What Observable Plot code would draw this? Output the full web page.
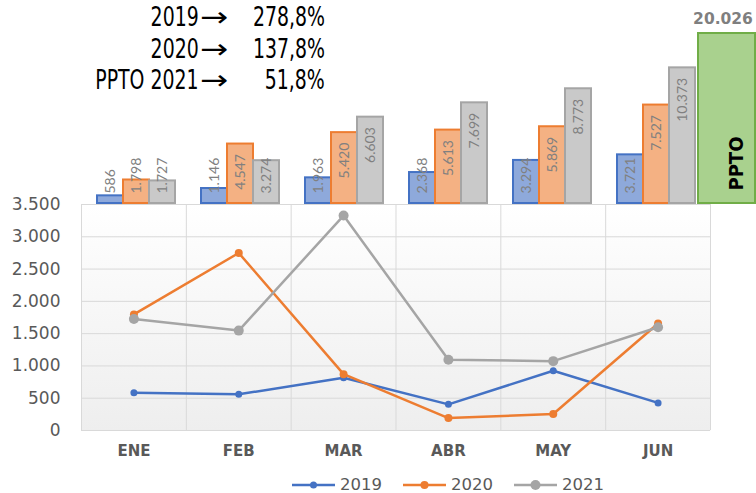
<!DOCTYPE html>
<html>
<head>
<meta charset="utf-8">
<script src="https://cdn.jsdelivr.net/npm/d3@7"></script>
<script src="https://cdn.jsdelivr.net/npm/@observablehq/plot@0.6"></script>
<style>
  body { margin: 0; background: #fff; }
  #wrap { position: relative; width: 756px; height: 493px; overflow: hidden; font-family: "DejaVu Sans", sans-serif; }
  #wrap > svg { position: absolute; top: 0; }
  .note { position: absolute; left: 0; width: 340px; height: 31.5px; line-height: 31.5px; font-size: 27px; color: #000; white-space: nowrap; }
  .note span { position: absolute; top: 0; display: inline-block; line-height: 31.5px; transform: scaleX(0.7); transform-origin: 100% 50%; }
  .note .lab { right: 141px; }
  .note .arr { right: 111px; transform: scaleX(1.25); }
  .note .val { right: 15px; }
  #legend { position: absolute; left: 292px; top: 474px; height: 22px; display: flex; align-items: center; font-size: 16.5px; color: #595959; }
  #legend .item { display: flex; align-items: center; margin-right: 21px; }
  #legend .item span { margin-left: 5px; line-height: 22px; }
</style>
</head>
<body>
<div id="wrap"></div>
<script>
// ---- data ----
const months = ["ENE", "FEB", "MAR", "ABR", "MAY", "JUN"];
const series = ["2019", "2020", "2021"];
// monthly values (line chart)
const monthly2019 = [586, 560, 817, 405, 926, 427];
const monthly2020 = [1798, 2749, 873, 193, 256, 1658];
const monthly2021 = [1727, 1547, 3329, 1096, 1074, 1600];
// cumulative values (bars on top)
const cum2019 = [586, 1146, 1963, 2368, 3294, 3721];
const cum2020 = [1798, 4547, 5420, 5613, 5869, 7527];
const cum2021 = [1727, 3274, 6603, 7699, 8773, 10373];
const pptoLabel = "PPTO";
const pptoValue = 20026;
const yTicks = [0, 500, 1000, 1500, 2000, 2500, 3000, 3500];
const noteLabels = ["2019→", "2020→", "PPTO 2021→"];
const noteValues = ["278,8%", "137,8%", "51,8%"];

// ---- styles ----
const lineColors = ["#4472C4", "#ED7D31", "#A5A5A5"];
const barFills = ["#8EA9DB", "#F4B183", "#C9C9C9"];
const dotR = [3.5, 4, 5];
const barAxisMax = 13000;

const fmt = d3.formatLocale({decimal: ",", thousands: ".", grouping: [3], currency: ["", ""]}).format(",d");
const monthlyAll = [monthly2019, monthly2020, monthly2021];
const cumAll = [cum2019, cum2020, cum2021];

const lineRows = series.flatMap((s, k) => monthlyAll[k].map((v, i) => ({series: s, i, value: v})));
const barRows = series.flatMap((s, k) => cumAll[k].map((v, i) => ({series: s, month: months[i], value: v})));

const wrap = document.getElementById("wrap");

// ---- line chart ----
const linePlot = Plot.plot({
  width: 756, height: 470,
  marginTop: 204, marginBottom: 40, marginLeft: 81, marginRight: 46,
  style: {background: "transparent", overflow: "visible"},
  x: {domain: [-0.5, months.length - 0.5], axis: null, label: null},
  y: {domain: [0, 3500], axis: null, label: null},
  marks: [
    Plot.frame({fill: "url(#plotbg)", stroke: null}),
    Plot.gridY(yTicks, {stroke: "#d9d9d9", strokeOpacity: 1}),
    Plot.gridX(d3.range(-0.5, months.length, 1), {stroke: "#d9d9d9", strokeOpacity: 1}),
    Plot.axisY(yTicks, {label: null, tickSize: 0, tickPadding: 21, tickFormat: fmt, fontSize: 17, color: "#595959", fontFamily: "DejaVu Sans"}),
    Plot.axisX(months.map((m, i) => i), {label: null, tickSize: 0, tickPadding: 15, tickFormat: i => months[i], fontSize: 15, fontWeight: "bold", color: "#595959", fontFamily: "DejaVu Sans"}),
    ...series.flatMap((s, k) => [
      Plot.line(lineRows.filter(d => d.series === s), {x: "i", y: "value", stroke: lineColors[k], strokeWidth: 2.5}),
      Plot.dot(lineRows.filter(d => d.series === s), {x: "i", y: "value", fill: lineColors[k], r: dotR[k]})
    ])
  ]
});
{
  const defs = d3.select(linePlot).insert("defs", ":first-child");
  const g = defs.append("linearGradient").attr("id", "plotbg").attr("x1", 0).attr("y1", 0).attr("x2", 0).attr("y2", 1);
  g.append("stop").attr("offset", "0%").attr("stop-color", "#ffffff");
  g.append("stop").attr("offset", "100%").attr("stop-color", "#eeeeee");
}
linePlot.style.left = "0px";
wrap.appendChild(linePlot);

// ---- cumulative bars ----
const barsPlot = Plot.plot({
  width: 756, height: 210,
  marginTop: 33, marginBottom: 7, marginLeft: 81, marginRight: 46,
  style: {background: "transparent", fontFamily: "Lato"},
  fx: {domain: months, padding: 0, axis: null},
  x: {domain: series, paddingInner: 0, paddingOuter: 0.5, axis: null},
  y: {domain: [0, barAxisMax], axis: null},
  marks: [
    ...series.map((s, k) => Plot.barY(barRows.filter(d => d.series === s), {fx: "month", x: "series", y: "value", fill: barFills[k], stroke: lineColors[k], strokeWidth: 2})),
    Plot.text(barRows.filter(d => d.value >= 4000), {fx: "month", x: "series", y: "value", text: d => fmt(d.value), rotate: -90, textAnchor: "end", dy: 10, fill: "#808080", fontSize: 14}),
    Plot.text(barRows.filter(d => d.value < 4000), {fx: "month", x: "series", y: () => 0, text: d => fmt(d.value), rotate: -90, textAnchor: "start", dy: -10, fill: "#808080", fontSize: 14})
  ]
});
barsPlot.style.left = "0px";
wrap.appendChild(barsPlot);

// ---- PPTO bar ----
const pptoPlot = Plot.plot({
  width: 79, height: 210,
  marginTop: 33, marginBottom: 7, marginLeft: 21, marginRight: 1,
  style: {background: "transparent", overflow: "visible"},
  x: {domain: [pptoLabel], padding: 0, axis: null},
  y: {domain: [0, barAxisMax], clamp: true, axis: null},
  marks: [
    Plot.barY([pptoValue], {x: () => pptoLabel, y: d => d, fill: "#A9D18E", stroke: "#70AD47", strokeWidth: 2}),
    Plot.text([pptoValue], {x: () => pptoLabel, y: d => d, text: d => fmt(d), lineAnchor: "bottom", dy: -10, dx: -4, fontWeight: "bold", fontSize: 15.5, fill: "#7f7f7f", fontFamily: "DejaVu Sans"}),
    Plot.text([pptoLabel], {x: d => d, y: () => 0, text: d => d, rotate: -90, textAnchor: "start", dy: -13, dx: 10, fontWeight: "bold", fontSize: 20, fill: "#000", fontFamily: "Liberation Sans Narrow, DejaVu Sans Condensed, Liberation Sans, sans-serif"})
  ]
});
pptoPlot.style.left = "677px";
wrap.appendChild(pptoPlot);

// ---- notes at top-left ----
noteLabels.forEach((lab, i) => {
  const div = document.createElement("div");
  div.className = "note";
  div.style.top = (1.25 + i * 31.5) + "px";
  const a = document.createElement("span"); a.className = "lab"; a.textContent = lab.slice(0, -1);
  const r = document.createElement("span"); r.className = "arr"; r.textContent = lab.slice(-1);
  const b = document.createElement("span"); b.className = "val"; b.textContent = noteValues[i];
  div.appendChild(a); div.appendChild(r); div.appendChild(b);
  wrap.appendChild(div);
});

// ---- legend ----
const legend = document.createElement("div");
legend.id = "legend";
series.forEach((s, k) => {
  const item = document.createElement("div");
  item.className = "item";
  item.innerHTML = `<svg width="43" height="12"><line x1="0" x2="43" y1="6" y2="6" stroke="${lineColors[k]}" stroke-width="2.5"/><circle cx="21.5" cy="6" r="${dotR[k]}" fill="${lineColors[k]}"/></svg><span>${s}</span>`;
  legend.appendChild(item);
});
wrap.appendChild(legend);
</script>
</body>
</html>
